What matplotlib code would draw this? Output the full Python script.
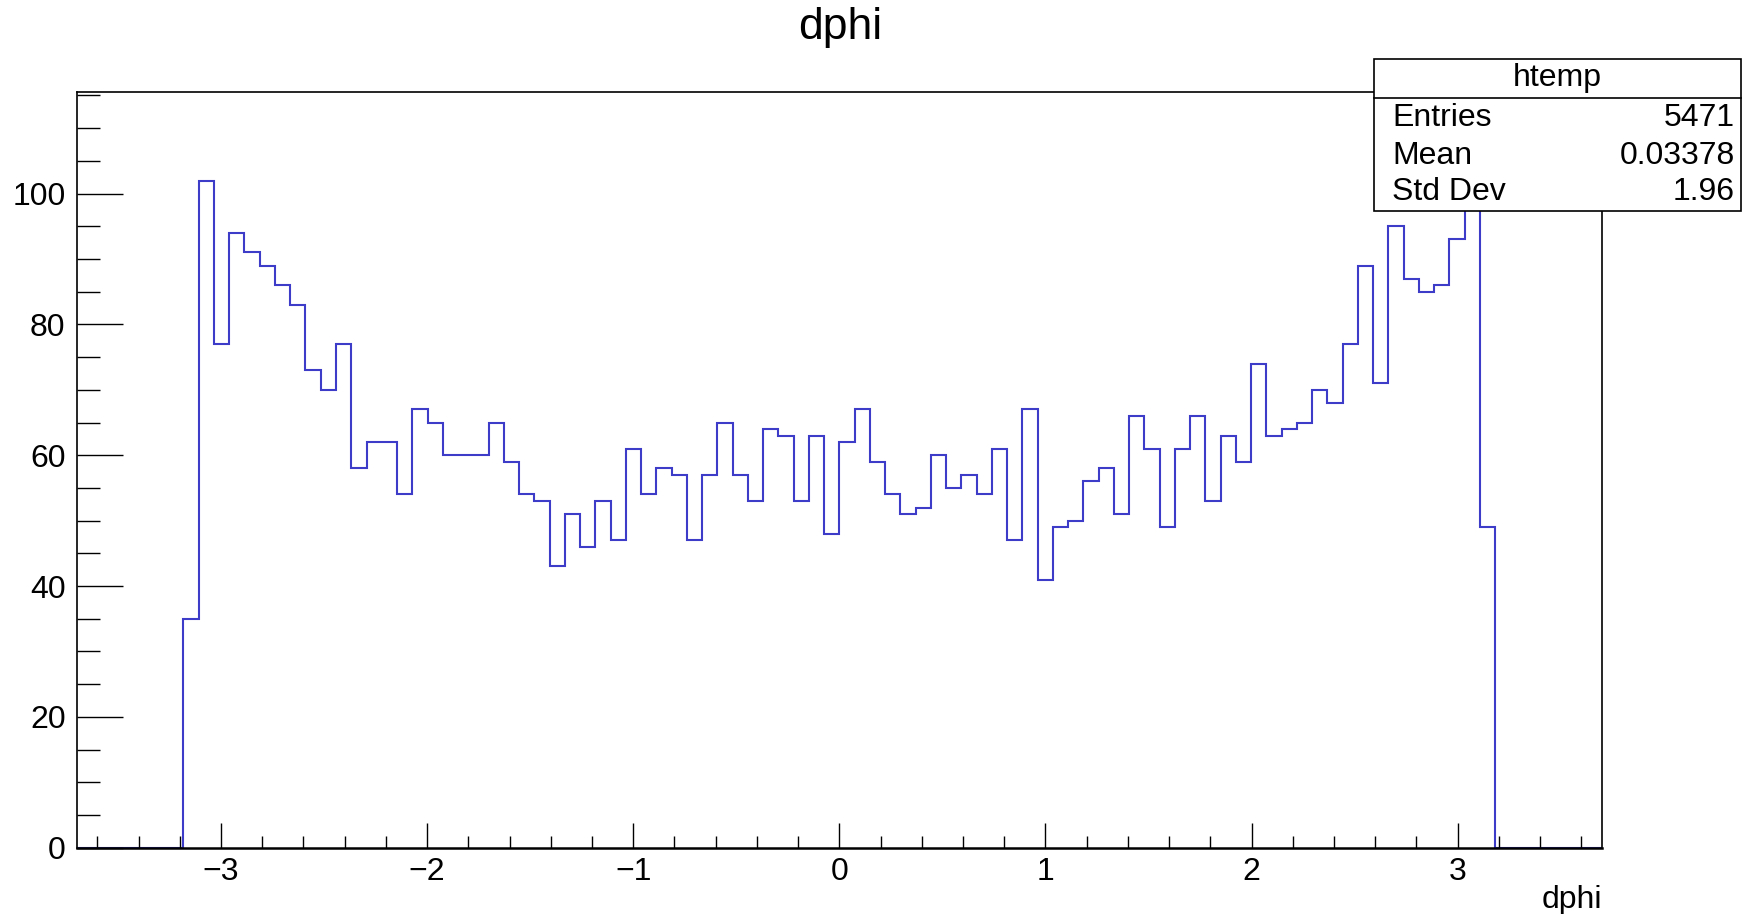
import numpy as np
import matplotlib.pyplot as plt
from matplotlib.patches import Rectangle
from matplotlib.ticker import MultipleLocator

plt.rcParams['font.family'] = ['Liberation Sans', 'DejaVu Sans']

# histogram htemp: 100 bins over [-3.7, 3.7], only bins 7..92 are filled
x_min = -3.7
x_max = 3.7
n_bins = 100
first_bin = 7
filled = [35, 102, 77, 94, 91, 89, 86, 83, 73, 70,
          77, 58, 62, 62, 54, 67, 65, 60, 60, 60,
          65, 59, 54, 53, 43, 51, 46, 53, 47, 61,
          54, 58, 57, 47, 57, 65, 57, 53, 64, 63,
          53, 63, 48, 62, 67, 59, 54, 51, 52, 60,
          55, 57, 54, 61, 47, 67, 41, 49, 50, 56,
          58, 51, 66, 61, 49, 61, 66, 53, 63, 59,
          74, 63, 64, 65, 70, 68, 77, 89, 71, 95,
          87, 85, 86, 93, 110, 49]
counts = [0] * first_bin + filled + [0] * (n_bins - first_bin - len(filled))
edges = np.linspace(x_min, x_max, n_bins + 1)

stat_names = ['Entries', 'Mean', 'Std Dev']
stat_values = ['5471', '0.03378', '1.96']

W, H = 1742, 914
fig = plt.figure(figsize=(W / 100, H / 100), dpi=100)
ax = fig.add_axes([76.7 / W, 1 - 847.7 / H, (1602 - 76.7) / W, (847.7 - 92.2) / H])

ax.stairs(counts, edges, color='#3c3cc8', linewidth=1.5, zorder=1)
ax.set_xlim(x_min, x_max)
ax.set_ylim(0, 1.05 * max(counts))

fs = 23
ax.xaxis.set_major_locator(MultipleLocator(1))
ax.xaxis.set_minor_locator(MultipleLocator(0.2))
ax.yaxis.set_major_locator(MultipleLocator(20))
ax.yaxis.set_minor_locator(MultipleLocator(5))
ax.tick_params(axis='x', which='major', direction='in', length=18, width=1, labelsize=fs, pad=7,
               top=False)
ax.tick_params(axis='x', which='minor', direction='in', length=9, width=1, top=False)
ax.tick_params(axis='y', which='major', direction='in', length=33, width=1, labelsize=fs, pad=8,
               right=False)
ax.tick_params(axis='y', which='minor', direction='in', length=16.5, width=1, right=False)
ax.xaxis.set_major_formatter(plt.FuncFormatter(lambda v, p: '\u2212%d' % -v if v < 0 else '%d' % v))
for s in ax.spines.values():
    s.set_linewidth(1.2)
ax.spines['bottom'].set_linewidth(1.8)
ax.spines['bottom'].set_zorder(3)

fig.text(1602 / W, 1 - 900 / H, 'dphi', ha='right', va='center', fontsize=fs)
fig.text(840 / W, 1 - 28 / H, 'dphi', ha='center', va='center', fontsize=32)

# stats box
bx0, bx1, by0, by1, bh = 1374, 1741, 59, 211, 98
fig.patches.append(Rectangle((bx0 / W, 1 - by1 / H), (bx1 - bx0) / W, (by1 - by0) / H,
                             transform=fig.transFigure, facecolor='white', edgecolor='black',
                             linewidth=1.2, zorder=5))
fig.add_artist(plt.Line2D([bx0 / W, bx1 / W], [1 - bh / H, 1 - bh / H],
                          transform=fig.transFigure, color='black', linewidth=1.2, zorder=6))
fig.text((bx0 + bx1) / 2 / W, 1 - 78 / H, 'htemp', ha='center', va='center', fontsize=fs, zorder=7)
for name, val, y in zip(stat_names, stat_values, [118, 156, 192]):
    fig.text(1392 / W, 1 - y / H, name, ha='left', va='center', fontsize=fs, zorder=7)
    fig.text(1735 / W, 1 - y / H, val, ha='right', va='center', fontsize=fs, zorder=7)

fig.savefig('out.png', dpi=100)
